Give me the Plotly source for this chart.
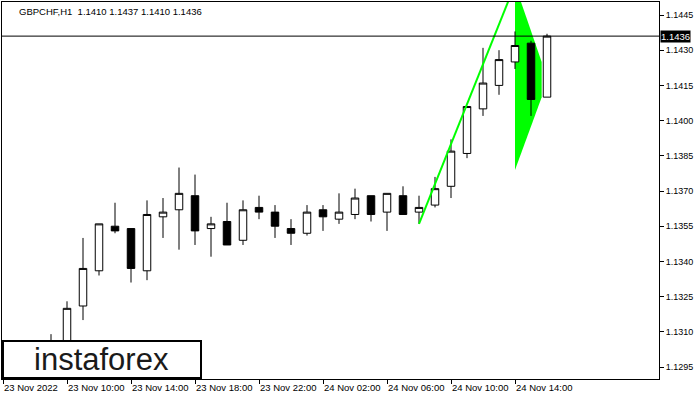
import plotly.graph_objects as go

symbol_title = "GBPCHF,H1  1.1410 1.1437 1.1410 1.1436"

times = [
    "2022-11-23 09:00", "2022-11-23 10:00", "2022-11-23 11:00", "2022-11-23 12:00",
    "2022-11-23 13:00", "2022-11-23 14:00", "2022-11-23 15:00", "2022-11-23 16:00",
    "2022-11-23 17:00", "2022-11-23 18:00", "2022-11-23 19:00", "2022-11-23 20:00",
    "2022-11-23 21:00", "2022-11-23 22:00", "2022-11-23 23:00", "2022-11-24 00:00",
    "2022-11-24 01:00", "2022-11-24 02:00", "2022-11-24 03:00", "2022-11-24 04:00",
    "2022-11-24 05:00", "2022-11-24 06:00", "2022-11-24 07:00", "2022-11-24 08:00",
    "2022-11-24 09:00", "2022-11-24 10:00", "2022-11-24 11:00", "2022-11-24 12:00",
    "2022-11-24 13:00", "2022-11-24 14:00", "2022-11-24 15:00", "2022-11-24 16:00",
]
opens = [1.1296, 1.1303, 1.1321, 1.1336, 1.1355, 1.1354, 1.1336, 1.1359,
         1.1362, 1.1368, 1.1354, 1.1357, 1.1349, 1.1363, 1.1361, 1.1354,
         1.1352, 1.1362, 1.1358, 1.1360, 1.1368, 1.1361, 1.1368, 1.1361,
         1.1364, 1.1372, 1.1386, 1.1405, 1.1415, 1.1425, 1.1433, 1.1410]
highs = [1.1309, 1.1323, 1.1350, 1.1356, 1.1365, 1.1354, 1.1366, 1.1367,
         1.1380, 1.1377, 1.1359, 1.1365, 1.1366, 1.1368, 1.1364, 1.1358,
         1.1364, 1.1364, 1.1369, 1.1371, 1.1368, 1.1369, 1.1372, 1.1368,
         1.1376, 1.1392, 1.1406, 1.1431, 1.1430, 1.1438, 1.1434, 1.1437]
lows = [1.1291, 1.1298, 1.1315, 1.1334, 1.1352, 1.1331, 1.1332, 1.1350,
        1.1345, 1.1347, 1.1342, 1.1347, 1.1347, 1.1358, 1.1350, 1.1347,
        1.1351, 1.1353, 1.1356, 1.1358, 1.1357, 1.1353, 1.1360, 1.1356,
        1.1363, 1.1367, 1.1384, 1.1402, 1.1411, 1.1422, 1.1402, 1.1410]
closes = [1.1303, 1.1320, 1.1337, 1.1356, 1.1353, 1.1337, 1.1360, 1.1361,
          1.1369, 1.1353, 1.1356, 1.1347, 1.1362, 1.1361, 1.1355, 1.1352,
          1.1361, 1.1359, 1.1361, 1.1367, 1.1360, 1.1369, 1.1360, 1.1363,
          1.1371, 1.1387, 1.1406, 1.1416, 1.1426, 1.1432, 1.1409, 1.1436]

current_price = 1.1436

# flagpole and pennant (pattern drawing)
pole_x = ["2022-11-24 08:00", "2022-11-24 14:00"]
pole_y = [1.1356, 1.1458]
pennant_x = ["2022-11-24 14:00", "2022-11-24 15:40", "2022-11-24 15:40", "2022-11-24 14:00"]
pennant_y = [1.1458, 1.1425, 1.1410, 1.1379]

tick_times = ["2022-11-23 06:00", "2022-11-23 10:00", "2022-11-23 14:00", "2022-11-23 18:00",
              "2022-11-23 22:00", "2022-11-24 02:00", "2022-11-24 06:00", "2022-11-24 10:00",
              "2022-11-24 14:00"]
tick_labels = ["23 Nov 2022", "23 Nov 10:00", "23 Nov 14:00", "23 Nov 18:00",
               "23 Nov 22:00", "24 Nov 02:00", "24 Nov 06:00", "24 Nov 10:00",
               "24 Nov 14:00"]
price_ticks = [1.1295, 1.1310, 1.1325, 1.1340, 1.1355, 1.1370, 1.1385, 1.1400, 1.1415, 1.1430, 1.1445]

FONT = "Liberation Sans, Arial, sans-serif"

fig = go.Figure()
fig.add_trace(go.Candlestick(
    x=times, open=opens, high=highs, low=lows, close=closes,
    increasing=dict(fillcolor="white", line=dict(color="black", width=1)),
    decreasing=dict(fillcolor="black", line=dict(color="black", width=1)),
    whiskerwidth=0, showlegend=False, hoverinfo="skip",
))
fig.add_trace(go.Scatter(
    x=pole_x, y=pole_y, mode="lines",
    line=dict(color="#00FF00", width=2), showlegend=False, hoverinfo="skip",
))

path = "M " + " L ".join(f"{t.replace(' ', '_')},{p}" for t, p in zip(pennant_x, pennant_y)) + " Z"
shapes = [
    dict(type="path", path=path, xref="x", yref="y", fillcolor="#00FF00",
         line=dict(width=0), layer="below"),
    dict(type="line", xref="paper", x0=0, x1=1, yref="y", y0=current_price, y1=current_price,
         line=dict(color="black", width=1), layer="above"),
    dict(type="rect", xref="paper", yref="paper", x0=0.0015, x1=0.3029, y0=0.0027, y1=0.1008,
         fillcolor="white", line=dict(color="black", width=2), layer="above"),
]

annotations = [
    dict(text=symbol_title, xref="paper", yref="paper", x=0.0228, y=0.9735,
         xanchor="left", yanchor="middle", showarrow=False,
         font=dict(family=FONT, size=9.5, color="black")),
    dict(text=f"{current_price:.4f}", xref="paper", yref="y", x=1, y=current_price,
         xanchor="left", yanchor="middle", xshift=1, showarrow=False,
         bgcolor="black", borderpad=0, font=dict(family=FONT, size=9.5, color="white")),
    dict(text="instaforex", xref="paper", yref="paper", x=0.152, y=0.052,
         xanchor="center", yanchor="middle", showarrow=False,
         font=dict(family=FONT, size=31, color="#1a1a1a")),
]

fig.update_layout(
    width=700, height=400,
    margin=dict(l=2, r=41, t=2, b=21),
    paper_bgcolor="white", plot_bgcolor="white",
    boxgap=0.33,
    shapes=shapes, annotations=annotations,
    font=dict(family=FONT, size=9.5, color="black"),
    xaxis=dict(
        type="date", range=["2022-11-23 05:56:15", "2022-11-24 23:00:00"],
        rangeslider=dict(visible=False),
        tickvals=tick_times, ticktext=tick_labels, tickangle=0,
        ticks="outside", ticklen=4, tickcolor="black", tickwidth=1,
        ticklabelposition="outside right",
        showline=True, linecolor="black", linewidth=1, mirror=True,
        showgrid=False, zeroline=False,
        tickfont=dict(family=FONT, size=9.5, color="black"),
    ),
    yaxis=dict(
        side="right", range=[1.128989, 1.145054],
        tickvals=price_ticks, ticktext=[f"{v:.4f}" for v in price_ticks],
        ticks="outside", ticklen=4, tickcolor="black", tickwidth=1,
        showline=True, linecolor="black", linewidth=1, mirror=True,
        showgrid=False, zeroline=False,
        tickfont=dict(family=FONT, size=9, color="black"),
    ),
)

fig.write_html("out.html", config={"displayModeBar": False},
               post_script="document.body.style.margin='0px';")
